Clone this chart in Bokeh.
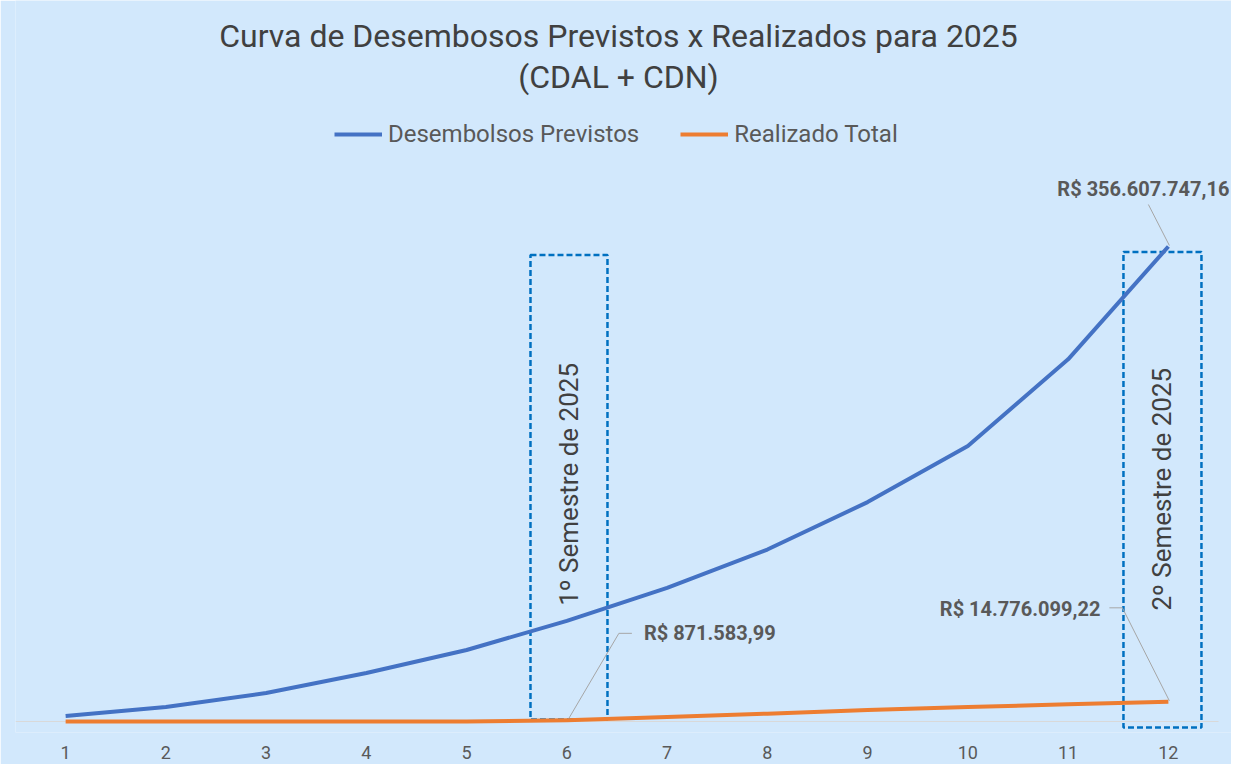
import math
from bokeh.plotting import figure
from bokeh.models import (Range1d, FixedTicker, Label, Legend, LegendItem,
                          ColumnDataSource)
from bokeh.core.properties import value
from bokeh.embed import file_html
from bokeh.resources import INLINE

# ---------------- data ----------------
months = [1, 2, 3, 4, 5, 6, 7, 8, 9, 10, 11, 12]
previstos = [4.1e6, 10.9e6, 21.4e6, 36.4e6, 53.7e6, 75.5e6, 100.3e6,
             129.1e6, 164.7e6, 206.8e6, 271.9e6, 356607747.16]
realizado = [0.0, 0.0, 0.0, 0.0, 0.0, 871583.99, 3.3e6, 5.9e6, 8.6e6,
             10.8e6, 12.9e6, 14776099.22]
tick_labels = [str(m) for m in months]
title_lines = ["Curva de Desembosos Previstos x Realizados para 2025", "(CDAL + CDN)"]
legend_labels = ["Desembolsos Previstos", "Realizado Total"]
semester_labels = ["1º Semestre de 2025", "2º Semestre de 2025"]
semester_months = [6, 12]

# ---------------- layout ----------------
W, H = 1231, 764
BORDER_L, BORDER_R, BORDER_T, BORDER_B = 15, 0, 0, 32
FRAME_W = W - BORDER_L - BORDER_R
FRAME_H = H - BORDER_T - BORDER_B
XPX = 1203 / 12.0                         # pixels per month
X1 = 0.5 + FRAME_W / XPX
UNIT = previstos[-1] / 475.0              # reais per pixel
Y0 = -11 * UNIT
Y1 = Y0 + FRAME_H * UNIT

BG = "#D2E8FC"
BLUE = "#4472C4"
ORANGE = "#ED7D31"
BOX = "#0070C0"
GREY_TXT = "#595959"
DARK_TXT = "#404040"
LEADER = "#A6A6A6"
FONT = "Roboto"


def brl(v):
    s = f"{v:,.2f}"
    return "R$ " + s.replace(",", "X").replace(".", ",").replace("X", ".")


def off(xd, yd, dx, dy):
    """data point shifted by screen pixels (dx right, dy down)"""
    return xd + dx / XPX, yd - dy * UNIT


p = figure(width=W, height=H, output_backend="svg", toolbar_location=None,
           x_range=Range1d(0.5, X1), y_range=Range1d(Y0, Y1),
           y_axis_location=None,
           min_border_left=BORDER_L, min_border_right=BORDER_R,
           min_border_top=BORDER_T, min_border_bottom=BORDER_B)
p.background_fill_color = BG
p.border_fill_color = BG
p.outline_line_color = None
p.xgrid.visible = False
p.ygrid.visible = False

ax = p.xaxis[0]
ax.ticker = FixedTicker(ticks=months)
ax.major_label_overrides = {m: t for m, t in zip(months, tick_labels)}
ax.axis_line_color = None
ax.major_tick_line_color = None
ax.minor_tick_line_color = None
ax.major_label_standoff = 7
ax.major_label_text_font = FONT
ax.major_label_text_font_size = "18px"
ax.major_label_text_color = GREY_TXT

# category axis baseline
p.segment(x0=[months[0] - 0.5], x1=[months[-1] + 0.5], y0=[0], y1=[0],
          line_color="#D9D9D9", line_width=1)

# semester boxes (dashed)
box_left = [-0.363, -0.448]
box_right = [0.405, 0.33]
box_top = [350.2e6, 352.5e6]
box_bot = [1.5e6, -4.5e6]
p.quad(left=[m + l for m, l in zip(semester_months, box_left)],
       right=[m + r for m, r in zip(semester_months, box_right)],
       top=box_top, bottom=box_bot, fill_color=None, line_color=BOX,
       line_width=2.5, line_dash="6 3")

# lines
src = ColumnDataSource(dict(x=months, prev=previstos, real=realizado))
r_prev = p.line("x", "prev", source=src, line_color=BLUE, line_width=4, line_join="round")
r_real = p.line("x", "real", source=src, line_color=ORANGE, line_width=4, line_join="round")

# semester texts
sem_x = [6.02, 11.94]
sem_y = [178e6, 174.4e6]
p.text(x=sem_x, y=sem_y, text=semester_labels, angle=math.pi / 2,
       text_align="center", text_baseline="middle", text_font=value(FONT),
       text_font_size="26px", text_color=DARK_TXT)

# data labels + leader lines
xa, ya = months[-1], previstos[-1]
xb, yb = months[5], realizado[5]
xc, yc = months[-1], realizado[-1]

lab_x, lab_y, lab_t, lab_align = [], [], [], []
for (xd, yd, dx, dy, al, v) in [(xa, ya, 61, -58, "right", ya),
                                (xb, yb, 77, -87, "left", yb),
                                (xc, yc, -68, -93, "right", yc)]:
    lx, ly = off(xd, yd, dx, dy)
    lab_x.append(lx); lab_y.append(ly); lab_t.append(brl(v)); lab_align.append(al)
p.text(x=lab_x, y=lab_y, text=lab_t, text_align=lab_align, text_baseline="middle",
       text_font=value(FONT), text_font_size="20px", text_font_style="bold",
       text_color=GREY_TXT)

leaders = [
    [off(xa, ya, -20, -42), off(xa, ya, 1, -1)],
    [off(xb, yb, 2, -2), off(xb, yb, 52, -87), off(xb, yb, 65, -87)],
    [off(xc, yc, -59, -94), off(xc, yc, -46, -94), off(xc, yc, 1, -1)],
]
p.multi_line(xs=[[pt[0] for pt in L] for L in leaders],
             ys=[[pt[1] for pt in L] for L in leaders],
             line_color=LEADER, line_width=1)

# title
tx = 0.5 + (626 - 23) / XPX
for line, py in zip(title_lines, [43, 84]):
    p.add_layout(Label(x=tx, y=(729 - py) * UNIT, text=line, text_align="center",
                       text_baseline="middle", text_font=FONT, text_font_size="32px",
                       text_color=DARK_TXT))

# legend
legend = Legend(items=[LegendItem(label=legend_labels[0], renderers=[r_prev]),
                       LegendItem(label=legend_labels[1], renderers=[r_real])],
                orientation="horizontal", location=(319, 584),
                glyph_width=48, glyph_height=20, label_standoff=6, spacing=41,
                padding=0, margin=0, border_line_color=None,
                background_fill_alpha=0, label_text_font=FONT,
                label_text_font_size="24px", label_text_color=GREY_TXT)
p.add_layout(legend)

open("out.html", "w").write(file_html(p, INLINE))
